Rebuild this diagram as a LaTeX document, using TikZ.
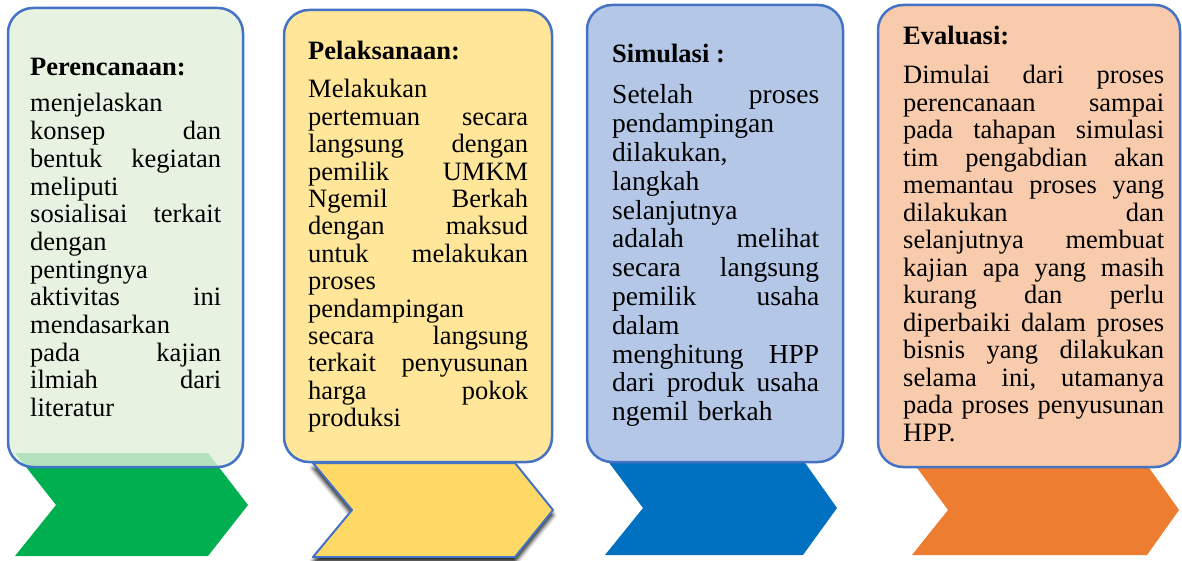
\documentclass[tikz,border=0pt]{standalone}
\usepackage{fontspec}
\setmainfont{Liberation Serif}
\usetikzlibrary{shadows.blur}
\definecolor{frame}{HTML}{4472C4}
\definecolor{boxgreen}{HTML}{E2EFDA}
\definecolor{boxyellow}{HTML}{FFE699}
\definecolor{boxblue}{HTML}{B4C7E7}
\definecolor{boxorange}{HTML}{F8CBAD}
\definecolor{chgreen}{HTML}{00B050}
\definecolor{chyellow}{HTML}{FFD966}
\definecolor{chblue}{HTML}{0070C0}
\definecolor{chorange}{HTML}{ED7D31}
\newcommand{\jsp}{\nobreak\hskip 0.25em plus 1fill\relax}

\begin{document}
\begin{tikzpicture}[x=1pt,y=-1pt,
		box/.style={draw=frame, line width=2.5pt, rounded corners=25pt},
		head/.style={anchor=base west, inner sep=0pt, font=\fontsize{26.5}{27.7}\selectfont\bfseries},
		body/.style={anchor=base west, inner sep=0pt, align=left}]
		\useasboundingbox (0,0) rectangle (1182,561);
		%%%%%%%%%%%%%
		\fill[chgreen] (15,453) -- (208,453) -- (248,505) -- (208,556) -- (15,556) -- (56,505) -- cycle;
		\filldraw[fill=chyellow, draw=frame, line width=2pt, line join=round,
			blur shadow={shadow xshift=0pt, shadow yshift=-5pt, shadow blur radius=4pt, shadow opacity=90}]
			(313,463) -- (515,463) -- (553,510) -- (515,557) -- (313,557) -- (352,510) -- cycle;
		\fill[chblue] (607,460) -- (803,460) -- (837,508) -- (803,555) -- (605,555) -- (643,508) -- cycle;
		\fill[chorange] (915,465) -- (1147,465) -- (1179,510) -- (1147,555) -- (912,555) -- (948,510) -- cycle;
		%%%%%%%%%%%%%
		\filldraw[box, fill=boxgreen, fill opacity=.8] (8,8) rectangle (243,467);
		\filldraw[box, fill=boxyellow] (284,10) rectangle (552,462);
		\filldraw[box, fill=boxblue] (587,5) rectangle (843,462);
		\filldraw[box, fill=boxorange] (878,5) rectangle (1180,467);
		%%%%%%%%%%%%%
		\node[head] (h1) at (30,76) {Perencanaan:};
		\node[body, text width=191pt, font=\fontsize{26.5}{27.7}\selectfont] (t1) at (30,112) {%
			menjelaskan\\
			konsep\jsp dan\\
			bentuk\jsp kegiatan\\
			meliputi\\
			sosialisai\jsp terkait\\
			dengan\\
			pentingnya\\
			aktivitas\jsp ini\\
			mendasarkan\\
			pada\jsp kajian\\
			ilmiah\jsp dari\\
			literatur};
		\node[head] (h2) at (308,60) {Pelaksanaan:};
		\node[body, text width=220pt, font=\fontsize{26.5}{27.4}\selectfont] (t2) at (308,98) {%
			Melakukan\\
			pertemuan\jsp secara\\
			langsung\jsp dengan\\
			pemilik\jsp UMKM\\
			Ngemil\jsp Berkah\\
			dengan\jsp maksud\\
			untuk\jsp melakukan\\
			proses\\
			pendampingan\\
			secara\jsp langsung\\
			terkait\jsp penyusunan\\
			harga\jsp pokok\\
			produksi};
		\node[head] (h3) at (612,63) {Simulasi :};
		\node[body, text width=207pt, font=\fontsize{27.5}{28.8}\selectfont] (t3) at (612,104) {%
			Setelah\jsp proses\\
			pendampingan\\
			dilakukan,\\
			langkah\\
			selanjutnya\\
			adalah\jsp melihat\\
			secara\jsp langsung\\
			pemilik\jsp usaha\\
			dalam\\
			menghitung\jsp HPP\\
			dari\jsp produk\jsp usaha\\
			ngemil berkah};
		\node[head] (h4) at (903,45) {Evaluasi:};
		\node[body, text width=261pt, font=\fontsize{26.5}{27.5}\selectfont] (t4) at (903,84) {%
			Dimulai\jsp dari\jsp proses\\
			perencanaan\jsp sampai\\
			pada\jsp tahapan\jsp simulasi\\
			tim\jsp pengabdian\jsp akan\\
			memantau\jsp proses\jsp yang\\
			dilakukan\jsp dan\\
			selanjutnya\jsp membuat\\
			kajian\jsp apa\jsp yang\jsp masih\\
			kurang\jsp dan\jsp perlu\\
			diperbaiki\jsp dalam\jsp proses\\
			bisnis\jsp yang\jsp dilakukan\\
			selama\jsp ini,\jsp utamanya\\
			pada\jsp proses\jsp penyusunan\\
			HPP.};
	\end{tikzpicture}
\end{document}
